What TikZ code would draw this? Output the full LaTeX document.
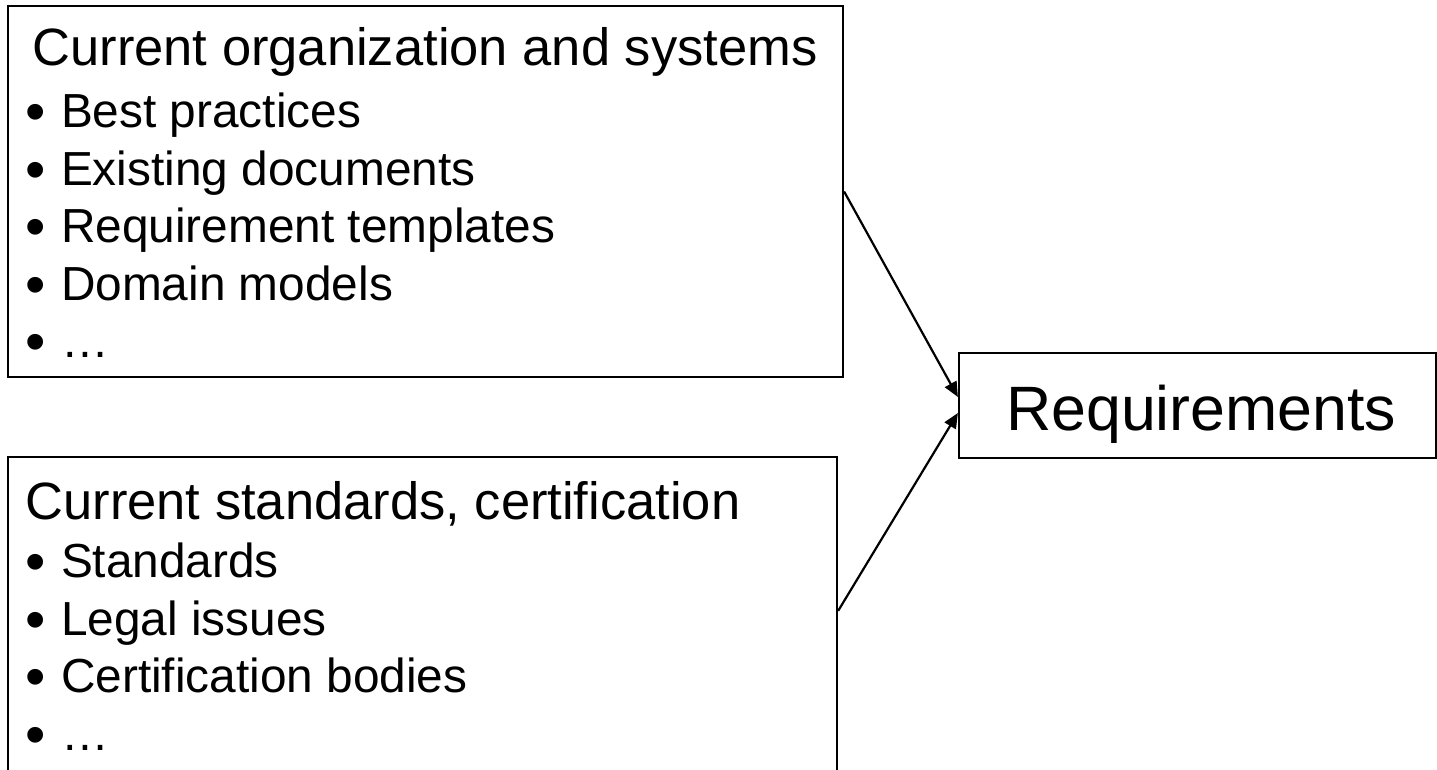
\documentclass[tikz,border=0pt]{standalone}
\usepackage{fontspec}
\setmainfont{Liberation Sans}
\usetikzlibrary{arrows.meta}
\begin{document}
\begin{tikzpicture}[x=1pt,y=-1pt,
  box/.style={draw=black,line width=2.2pt,fill=white,inner sep=0pt},
  txt/.style={anchor=base west,inner sep=0pt,outer sep=0pt},
  head/.style={txt,font=\fontsize{52.5}{57}\selectfont},
  item/.style={txt,font=\fontsize{47.8}{52}\selectfont},
  dot/.style={txt,font=\fontsize{58}{60}\selectfont,text height=28pt,text depth=0pt},
  link/.style={line width=2.2pt,-{Triangle[length=15pt,width=13pt]}}]
\useasboundingbox (0,0) rectangle (1437,769);
\begin{scope}
\clip (0,0) rectangle (1437,769);
% source boxes
\node[box,minimum width=835pt,minimum height=371pt] (org) at (425.5,191.5) {};
\node[box,minimum width=829pt,minimum height=340pt] (std) at (422.5,627) {};
% target box
\node[box,minimum width=477pt,minimum height=105pt] (req) at (1197.5,405.5) {};
\end{scope}
% first box text
\node[head] (orgT) at (32.5,65) {Current organization and systems};
\foreach \y/\t [count=\i] in {127/Best practices,185/Existing documents,242.5/Requirement templates,300/Domain models,357/…}{
  \node[dot] (orgB\i) at (25,\y+4) {•};
  \node[item] (orgI\i) at (61,\y) {\t};
}
% second box text
\node[head] (stdT) at (25.5,519) {Current standards, certification};
\foreach \y/\t [count=\i] in {577/Standards,635/Legal issues,692/Certification bodies,750/…}{
  \node[dot] (stdB\i) at (25,\y+4) {•};
  \node[item] (stdI\i) at (61,\y) {\t};
}
% target text
\node[txt,font=\fontsize{62.7}{68}\selectfont] (reqT) at (1006,430) {Requirements};
% connectors
\draw[link] (org.east) -- ([yshift=8.5pt]req.west);
\draw[link] ([yshift=-155pt]std.north east) -- ([yshift=-7.5pt]req.west);
\end{tikzpicture}
\end{document}
